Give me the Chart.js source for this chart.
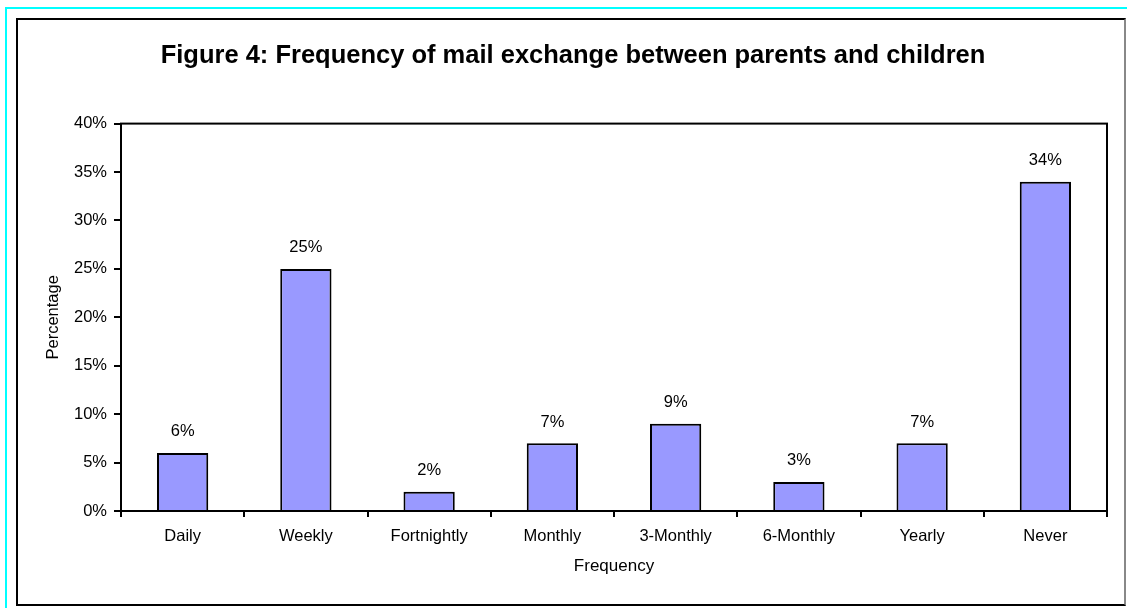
<!DOCTYPE html>
<html>
<head>
<meta charset="utf-8">
<script src="https://cdn.jsdelivr.net/npm/chart.js@4.4.1/dist/chart.umd.min.js"></script>
<style>
  html, body { margin: 0; padding: 0; background: #ffffff; }
  #wrap { position: relative; width: 1127px; height: 608px; overflow: hidden; }
  #outer { position: absolute; left: 5px; top: 7px; width: 1140px; height: 620px; border: 2px solid #00ffff; box-sizing: border-box; }
  #frame { position: absolute; left: 16px; top: 18px; width: 1110px; height: 588px; border: 2px solid #000000; border-right-color: #888888; box-sizing: border-box; }
  canvas { position: absolute; left: 0; top: 0; }
</style>
</head>
<body>
<div id="wrap">
  <div id="outer"></div>
  <div id="frame"></div>
  <canvas id="chart" width="1127" height="608"></canvas>
</div>
<script>
// Survey categories and share of respondents (percent)
const categories = ['Daily', 'Weekly', 'Fortnightly', 'Monthly', '3-Monthly', '6-Monthly', 'Yearly', 'Never'];
const percentages = [6, 25, 2, 7, 9, 3, 7, 34];
const yTicks = [0, 5, 10, 15, 20, 25, 30, 35, 40];

const FONT = 'Liberation Sans, Arial, sans-serif';

// Black frame around the plotting area
const plotFrame = {
  id: 'plotFrame',
  afterDatasetsDraw(chart) {
    const { ctx, chartArea: a } = chart;
    ctx.save();
    ctx.strokeStyle = '#000000';
    ctx.lineWidth = 2;
    ctx.strokeRect(a.left, a.top, a.right - a.left, a.bottom - a.top);
    ctx.restore();
  }
};

// Percentage labels above each bar
const valueLabels = {
  id: 'valueLabels',
  afterDatasetsDraw(chart) {
    const { ctx } = chart;
    const meta = chart.getDatasetMeta(0);
    ctx.save();
    ctx.fillStyle = '#000000';
    ctx.font = '16.5px ' + FONT;
    ctx.textAlign = 'center';
    ctx.textBaseline = 'middle';
    meta.data.forEach((bar, i) => {
      ctx.fillText(percentages[i] + '%', bar.x, bar.y - 21);
    });
    ctx.restore();
  }
};

new Chart(document.getElementById('chart'), {
  type: 'bar',
  data: {
    labels: categories,
    datasets: [{
      data: percentages,
      backgroundColor: '#9999ff',
      borderColor: '#000000',
      borderWidth: 2,
      borderSkipped: 'bottom',
      categoryPercentage: 0.8,
      barPercentage: 0.52
    }]
  },
  options: {
    responsive: false,
    animation: false,
    layout: { padding: { left: 39, right: 20, top: 20, bottom: 8 } },
    plugins: {
      legend: { display: false },
      tooltip: { enabled: false },
      title: {
        display: true,
        text: 'Figure 4: Frequency of mail exchange between parents and children',
        color: '#000000',
        font: { family: FONT, size: 25.5, weight: 'bold', lineHeight: 1.2 },
        padding: { top: 21, bottom: 52 }
      }
    },
    scales: {
      x: {
        afterFit(scale) { scale.height = 89; },
        grid: {
          display: true,
          drawOnChartArea: false,
          drawTicks: true,
          tickLength: 6,
          color: '#000000',
          lineWidth: 2,
          offset: true
        },
        border: { display: true, color: '#000000', width: 2 },
        ticks: {
          color: '#000000',
          font: { family: FONT, size: 16.5 },
          padding: 10,
          maxRotation: 0,
          autoSkip: false
        },
        title: {
          display: true,
          text: 'Frequency',
          color: '#000000',
          font: { family: FONT, size: 17, lineHeight: 1.2 },
          padding: { top: 0, bottom: 23 }
        }
      },
      y: {
        min: 0,
        max: 40,
        afterFit(scale) { scale.width = 82; },
        afterBuildTicks(scale) { scale.ticks = yTicks.map(v => ({ value: v })); },
        grid: {
          display: true,
          drawOnChartArea: false,
          drawTicks: true,
          tickLength: 7,
          color: '#000000',
          lineWidth: 2
        },
        border: { display: true, color: '#000000', width: 2 },
        ticks: {
          color: '#000000',
          font: { family: FONT, size: 16.5 },
          padding: 7,
          callback: v => v + '%'
        },
        title: {
          display: true,
          text: 'Percentage',
          color: '#000000',
          font: { family: FONT, size: 16.5, lineHeight: 1.2 },
          padding: { top: 5, bottom: 0 }
        }
      }
    }
  },
  plugins: [plotFrame, valueLabels]
});
</script>
</body>
</html>
